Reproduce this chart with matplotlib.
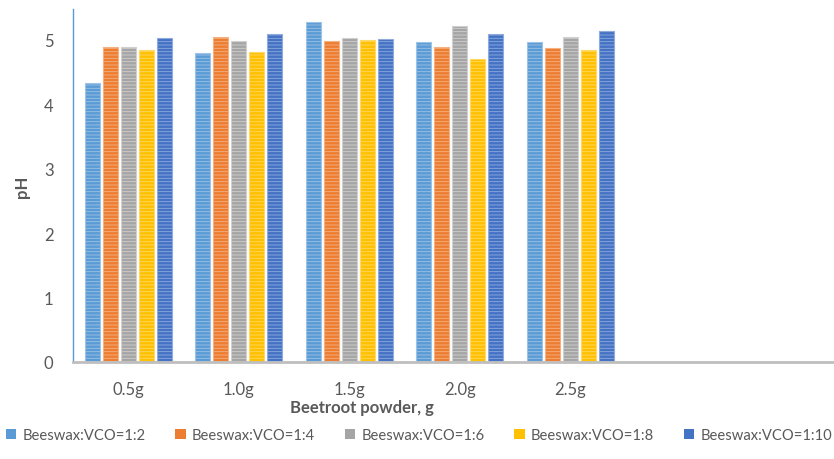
import matplotlib
matplotlib.use("Agg")
import matplotlib.pyplot as plt
import numpy as np
from matplotlib.patches import Patch

plt.rcParams['font.family'] = ['Lato', 'DejaVu Sans']
plt.rcParams['hatch.linewidth'] = 0.6

categories = ["0.5g", "1.0g", "1.5g", "2.0g", "2.5g"]
series_names = ["Beeswax:VCO=1:2", "Beeswax:VCO=1:4", "Beeswax:VCO=1:6",
                "Beeswax:VCO=1:8", "Beeswax:VCO=1:10"]
ratio_1_2 = [4.33, 4.80, 5.28, 4.96, 4.96]
ratio_1_4 = [4.89, 5.04, 4.98, 4.89, 4.87]
ratio_1_6 = [4.89, 4.98, 5.03, 5.21, 5.04]
ratio_1_8 = [4.84, 4.81, 5.00, 4.70, 4.85]
ratio_1_10 = [5.03, 5.09, 5.02, 5.09, 5.14]
series = [ratio_1_2, ratio_1_4, ratio_1_6, ratio_1_8, ratio_1_10]
colors = ["#5B9BD5", "#ED7D31", "#A5A5A5", "#FFC000", "#4472C4"]
hatch_colors = ["#9DC3E6", "#F4B183", "#D0D0D0", "#FFD966", "#8FAADC"]

fig = plt.figure(figsize=(8.34, 4.6), dpi=100)
ax = fig.add_axes([73/834, 1-363/460, 1-73/834, (363-10)/460])

x = np.arange(len(categories))
pitch = 0.163
width = 0.135
for i, (vals, c, hc, name) in enumerate(zip(series, colors, hatch_colors, series_names)):
    ax.bar(x + (i-2)*pitch, vals, width=width, color=c, edgecolor=hc,
           linewidth=0.8, hatch='-----', label=name, zorder=2)

ax.set_xlim(-0.5, (834-73)/110.5 - 0.5)
ax.set_ylim(0, 5.48)
ax.set_yticks([0, 1, 2, 3, 4, 5])
ax.set_xticks(x)
ax.set_xticklabels(categories)
ax.tick_params(axis='both', length=0, labelsize=12, labelcolor="#595959")
ax.tick_params(axis='y', pad=14)
ax.tick_params(axis='x', pad=14)
for s in ['top', 'right']:
    ax.spines[s].set_visible(False)
ax.spines['left'].set_color("#5B9BD5")
ax.spines['left'].set_linewidth(1.0)
ax.spines['bottom'].set_color("#BFBFBF")
ax.spines['bottom'].set_linewidth(2.0)

fig.text(22/834, 1-187/460, "pH", rotation=90, ha='center', va='center',
         fontsize=12, fontweight='bold', color="#595959")
fig.text(362/834, 1-408/460, "Beetroot powder, g", ha='center', va='center',
         fontsize=12, fontweight='bold', color="#595959")

handles = [Patch(facecolor=c, edgecolor='none') for c in colors]
leg = fig.legend(handles, series_names, loc='center left',
                 bbox_to_anchor=(6/834, 1-436/460),
                 ncol=5, frameon=False, fontsize=10.6, handlelength=0.7,
                 handleheight=0.7, handletextpad=0.4, columnspacing=2.05,
                 labelcolor="#595959", borderaxespad=0, borderpad=0)

fig.savefig("out.png", dpi=100)
